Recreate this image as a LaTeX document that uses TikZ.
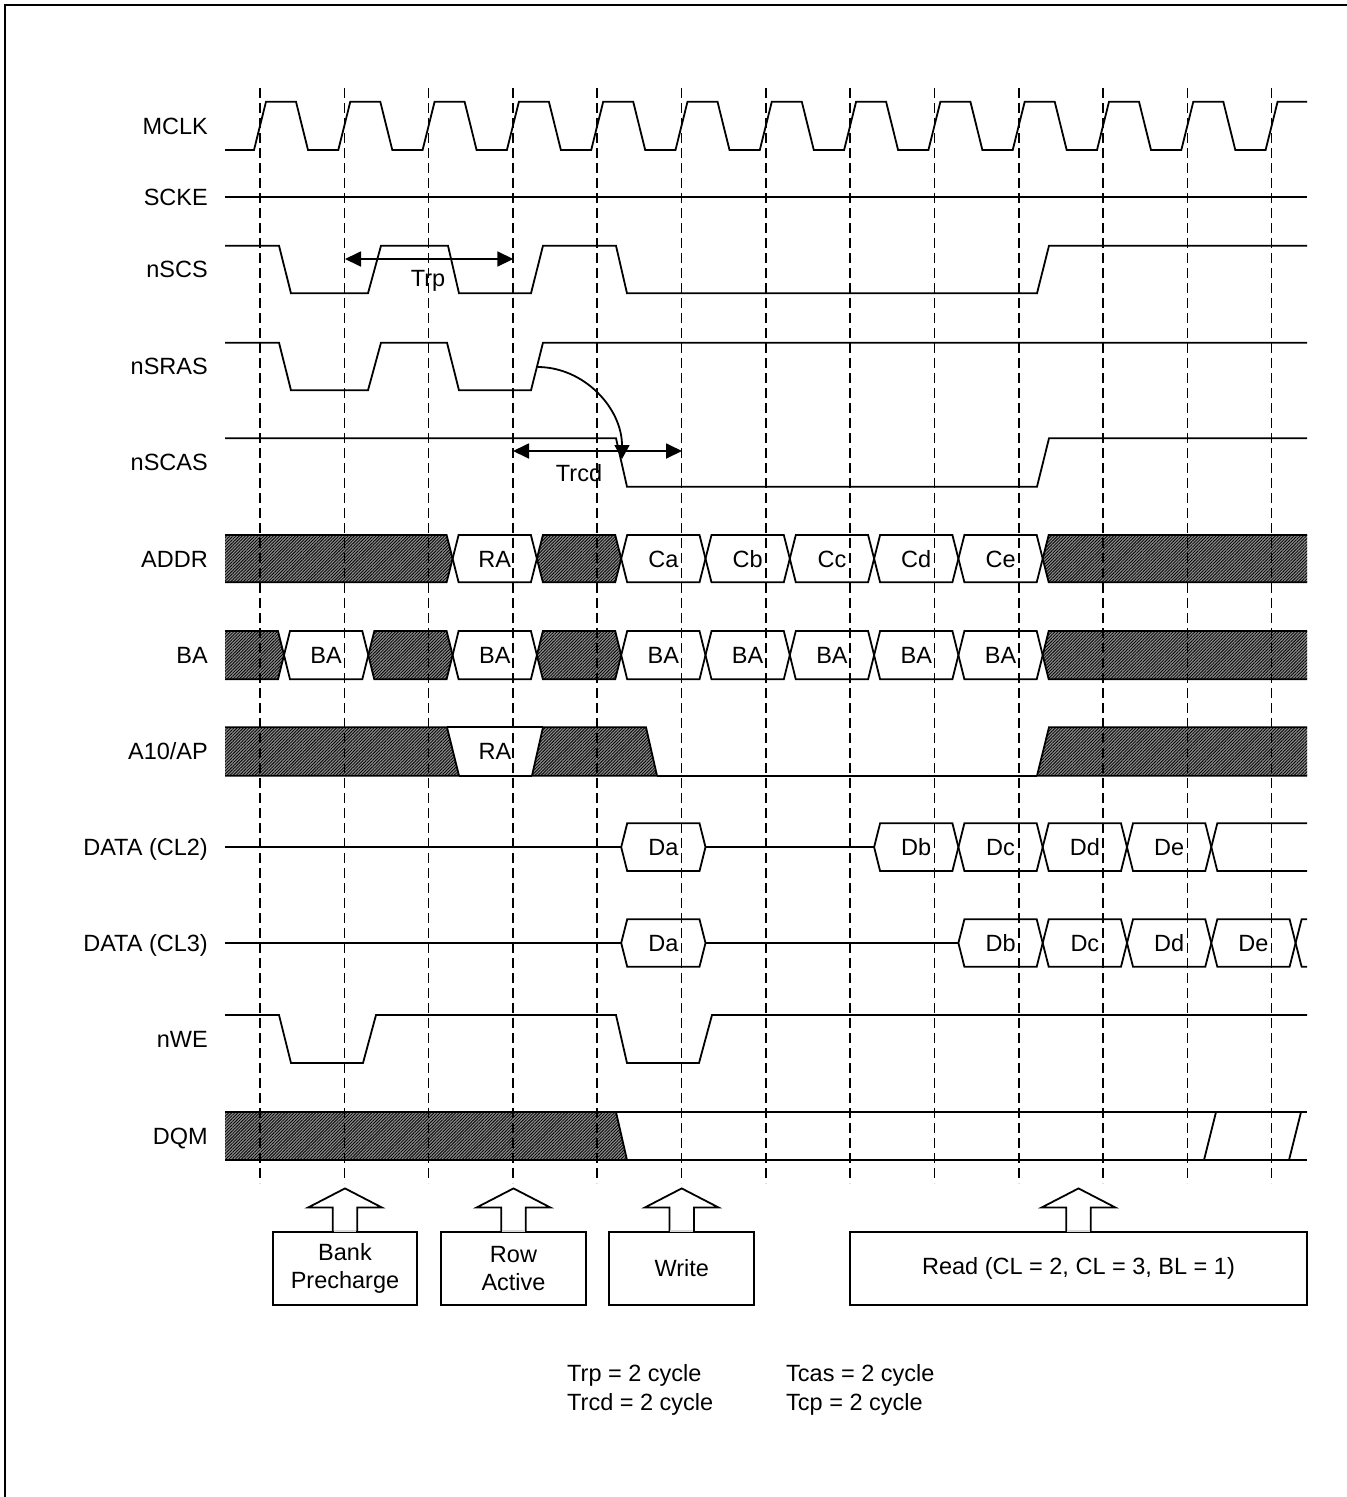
\documentclass[tikz,border=0pt]{standalone}
\usepackage{fontspec}
\setmainfont{Liberation Sans}
\usetikzlibrary{arrows.meta,patterns.meta}

% bus value box (hexagon) : x1, x2, top, bottom, name, text
\newcommand\busval[6]{%
  \draw[sig] (#1,{(#3+#4)/2}) -- ({#1+6},#3) -- ({#2-6},#3) -- (#2,{(#3+#4)/2}) -- ({#2-6},#4) -- ({#1+6},#4) -- cycle;
  \node[valtxt] (#5) at ({(#1+#2)/2},{(#3+#4)/2+8.4}) {#6};}
% hatched (don't care) segment with bevels on both sides
\newcommand\hatchseg[4]{%
  \filldraw[sig,hatchfill] (#1,{(#3+#4)/2}) -- ({#1+6},#3) -- ({#2-6},#3) -- (#2,{(#3+#4)/2}) -- ({#2-6},#4) -- ({#1+6},#4) -- cycle;}
% hatched segment from the start of the row
\newcommand\busstart[3]{%
  \fill[hatchfill] (225,#2) -- ({#1-6},#2) -- (#1,{(#2+#3)/2}) -- ({#1-6},#3) -- (225,#3) -- cycle;
  \draw[sig] (225,#2) -- ({#1-6},#2) -- (#1,{(#2+#3)/2}) -- ({#1-6},#3) -- (225,#3);}
% hatched segment to the end of the row
\newcommand\busend[3]{%
  \fill[hatchfill] (1307,#2) -- ({#1+6},#2) -- (#1,{(#2+#3)/2}) -- ({#1+6},#3) -- (1307,#3) -- cycle;
  \draw[sig] (1307,#2) -- ({#1+6},#2) -- (#1,{(#2+#3)/2}) -- ({#1+6},#3) -- (1307,#3);}

\begin{document}
\begin{tikzpicture}[x=1pt,y=-1pt,
  sig/.style={line width=1.8pt,line join=miter},
  guide/.style={line width=1.6pt,dash pattern=on 10pt off 5pt},
  hatchfill/.style={preaction={fill=black!45},pattern={Lines[angle=45,distance=2.2pt,line width=0.8pt]},pattern color=black},
  lbl/.style={font=\fontsize{23.5}{28}\selectfont,inner sep=0pt,anchor=base east},
  valtxt/.style={font=\fontsize{23.5}{28}\selectfont,inner sep=0pt,anchor=base},
  note/.style={font=\fontsize{23.5}{28}\selectfont,inner sep=0pt,anchor=base west},
  cmdbox/.style={draw,line width=1.8pt,minimum height=73.3pt,inner sep=0pt,align=center,font=\fontsize{23.5}{28.5}\selectfont},
  dimarrow/.style={line width=1.8pt,{Triangle[length=16pt,width=15pt]}-{Triangle[length=16pt,width=15pt]}}
]
\useasboundingbox (0,0) rectangle (1347,1497);

% frame (top and left edges)
\draw[line width=2.2pt] (5,1497) -- (5,5) -- (1347,5);

% signal names
\node[lbl] (lMCLK) at (208,134.2) {MCLK};
\node[lbl] (lSCKE) at (208,205.7) {SCKE};
\node[lbl] (lnSCS) at (208,277.9) {nSCS};
\node[lbl] (lnSRAS) at (208,374.9) {nSRAS};
\node[lbl] (lnSCAS) at (208,470.9) {nSCAS};
\node[lbl] (lADDR) at (208,567) {ADDR};
\node[lbl] (lBA) at (208,663.5) {BA};
\node[lbl] (lA10) at (208,759.9) {A10/AP};
\node[lbl] (lCL2) at (208,855.4) {DATA (CL2)};
\node[lbl] (lCL3) at (208,951.4) {DATA (CL3)};
\node[lbl] (lnWE) at (208,1047.4) {nWE};
\node[lbl] (lDQM) at (208,1144.4) {DQM};

% MCLK
\draw[sig] (225,150) foreach \k in {0,...,11} {
  -- ({260+84.3*\k-6},150) -- ({260+84.3*\k+6},101.7) -- ({260+84.3*\k+36},101.7) -- ({260+84.3*\k+48},150)}
  -- (1265.6,150) -- (1277.6,101.7) -- (1307,101.7);
% SCKE
\draw[sig] (225,197.3) -- (1307,197.3);
% nSCS
\draw[sig] (225,245.7) -- (279,245.7) -- (291,293.3) -- (368,293.3) -- (381,245.7) -- (448,245.7) -- (459,293.3)
  -- (531,293.3) -- (543,245.7) -- (616,245.7) -- (627,293.3) -- (1037,293.3) -- (1049,245.7) -- (1307,245.7);
% nSRAS
\draw[sig] (225,342.7) -- (279,342.7) -- (291,390.3) -- (368,390.3) -- (381,342.7) -- (447,342.7) -- (459,390.3)
  -- (531,390.3) -- (543,342.7) -- (1307,342.7);
% nSCAS
\draw[sig] (225,438.3) -- (616,438.3) -- (627,486.7) -- (1037,486.7) -- (1049,438.3) -- (1307,438.3);

% Trp
\coordinate (trpA) at (345,259);
\coordinate (trpB) at (513.3,259);
\draw[dimarrow] (trpA) -- (trpB);
\node[valtxt] (tTrp) at (428,286) {Trp};
% Trcd
\coordinate (trcdA) at (513,451);
\coordinate (trcdB) at (682,451);
\draw[dimarrow] (trcdA) -- (trcdB);
\node[valtxt] (tTrcd) at (579,481.7) {Trcd};
\coordinate (rasEdge) at (537.5,367);
\coordinate (casEdge) at (622,459);
\draw[sig,-{Triangle[length=14pt,width=15pt]}] (rasEdge) .. controls (584,367) and (622,408) .. (casEdge);

% ADDR
\busstart{452.6}{535}{582.3}
\busval{452.6}{536.9}{535}{582.3}{aRA}{RA}
\hatchseg{536.9}{621.2}{535}{582.3}
\busval{621.2}{705.5}{535}{582.3}{aCa}{Ca}
\busval{705.5}{789.8}{535}{582.3}{aCb}{Cb}
\busval{789.8}{874.1}{535}{582.3}{aCc}{Cc}
\busval{874.1}{958.4}{535}{582.3}{aCd}{Cd}
\busval{958.4}{1042.7}{535}{582.3}{aCe}{Ce}
\busend{1042.7}{535}{582.3}

% BA
\busstart{284}{631}{679.3}
\busval{284}{368.3}{631}{679.3}{bA1}{BA}
\hatchseg{368.3}{452.6}{631}{679.3}
\busval{452.6}{536.9}{631}{679.3}{bA2}{BA}
\hatchseg{536.9}{621.2}{631}{679.3}
\busval{621.2}{705.5}{631}{679.3}{bA3}{BA}
\busval{705.5}{789.8}{631}{679.3}{bA4}{BA}
\busval{789.8}{874.1}{631}{679.3}{bA5}{BA}
\busval{874.1}{958.4}{631}{679.3}{bA6}{BA}
\busval{958.4}{1042.7}{631}{679.3}{bA7}{BA}
\busend{1042.7}{631}{679.3}

% A10/AP
\fill[hatchfill] (225,727.3) -- (447,727.3) -- (459,775.7) -- (225,775.7) -- cycle;
\draw[sig] (225,727.3) -- (447,727.3) -- (459,775.7) -- (225,775.7);
\draw[sig] (447,727.3) -- (543,727.3);
\draw[sig] (459,775.7) -- (532,775.7);
\filldraw[sig,hatchfill] (532,775.7) -- (543,727.3) -- (646,727.3) -- (657,775.7) -- cycle;
\draw[sig] (657,775.7) -- (1037,775.7);
\fill[hatchfill] (1037,775.7) -- (1049,727.3) -- (1307,727.3) -- (1307,775.7) -- cycle;
\draw[sig] (1307,727.3) -- (1049,727.3) -- (1037,775.7) -- (1307,775.7);
\node[valtxt] (apRA) at (495,759.9) {RA};

% DATA (CL2)
\draw[sig] (225,847) -- (621.2,847);
\busval{621.2}{705.5}{823.3}{871}{dDa}{Da}
\draw[sig] (705.5,847) -- (874.1,847);
\busval{874.1}{958.4}{823.3}{871}{dDb}{Db}
\busval{958.4}{1042.7}{823.3}{871}{dDc}{Dc}
\busval{1042.7}{1127}{823.3}{871}{dDd}{Dd}
\busval{1127}{1211.3}{823.3}{871}{dDe}{De}
\draw[sig] (1307,823.3) -- (1217.3,823.3) -- (1211.3,847) -- (1217.3,871) -- (1307,871);

% DATA (CL3)
\draw[sig] (225,943) -- (621.2,943);
\busval{621.2}{705.5}{919.3}{966.7}{eDa}{Da}
\draw[sig] (705.5,943) -- (958.4,943);
\busval{958.4}{1042.7}{919.3}{966.7}{eDb}{Db}
\busval{1042.7}{1127}{919.3}{966.7}{eDc}{Dc}
\busval{1127}{1211.3}{919.3}{966.7}{eDd}{Dd}
\busval{1211.3}{1295.6}{919.3}{966.7}{eDe}{De}
\draw[sig] (1307,919.3) -- (1301.6,919.3) -- (1295.6,943) -- (1301.6,966.7) -- (1307,966.7);

% nWE
\draw[sig] (225,1015) -- (279,1015) -- (291,1063) -- (363,1063) -- (376,1015) -- (616,1015) -- (627,1063)
  -- (699,1063) -- (712,1015) -- (1307,1015);

% DQM
\fill[hatchfill] (225,1112) -- (616,1112) -- (627,1160) -- (225,1160) -- cycle;
\draw[sig] (225,1112) -- (1307,1112);
\draw[sig] (225,1160) -- (1307,1160);
\draw[sig] (616,1112) -- (627,1160);
\draw[sig] (1204,1160) -- (1216,1112);
\draw[sig] (1289,1160) -- (1301,1112);

% clock guide lines
\foreach \k in {0,...,12} \draw[guide] ({260+84.3*\k},88) -- ({260+84.3*\k},1183);

% command boxes
\node[cmdbox,minimum width=144.6pt] (bxBank) at (345,1268.35) {Bank\\Precharge};
\node[cmdbox,minimum width=145pt] (bxRow) at (513.5,1268.35) {Row\\Active};
\node[cmdbox,minimum width=144.7pt] (bxWrite) at (681.7,1268.35) {Write};
\node[cmdbox,minimum width=457pt] (bxRead) at (1078.5,1268.35) {Read (CL = 2, CL = 3, BL = 1)};
\foreach \n in {bxBank,bxRow,bxWrite,bxRead} {
  \filldraw[sig,fill=white] ([xshift=-12.3pt]\n.north) -- ++(0,-23.4) -- ++(-24.4,0) -- ++(36.7,-19)
    -- ++(36.7,19) -- ++(-24.4,0) -- ++(0,23.4);
  \draw[line width=1.8pt,black!15] ([xshift=-11.4pt]\n.north) -- ([xshift=11.4pt]\n.north);
}

% notes
\node[note] (nTrp) at (567,1381) {Trp = 2 cycle};
\node[note] (nTrcd) at (567,1410) {Trcd = 2 cycle};
\node[note] (nTcas) at (786,1381) {Tcas = 2 cycle};
\node[note] (nTcp) at (786,1410) {Tcp = 2 cycle};
\end{tikzpicture}
\end{document}
